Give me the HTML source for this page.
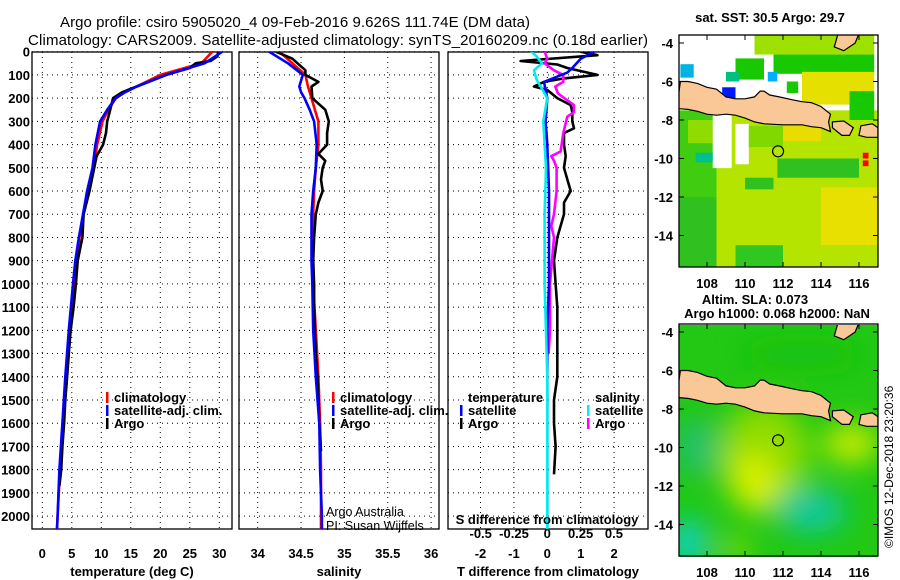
<!DOCTYPE html>
<html><head><meta charset="utf-8"><style>
html,body{margin:0;padding:0;background:#fff;}
svg{display:block;font-family:"Liberation Sans",sans-serif;}
.b{font-weight:bold;font-size:13px;}
</style></head><body>
<svg id="c" width="900" height="580" viewBox="0 0 900 580" xmlns="http://www.w3.org/2000/svg">
<defs>
<filter id="blur" x="-50%" y="-50%" width="200%" height="200%"><feGaussianBlur stdDeviation="14"/></filter>
<clipPath id="cm1"><rect x="679" y="35" width="199" height="232"/></clipPath>
<clipPath id="cm2"><rect x="679" y="325" width="199" height="232"/></clipPath>
<clipPath id="cp1"><rect x="32" y="52" width="200" height="477"/></clipPath>
<clipPath id="cp2"><rect x="239" y="52" width="200" height="477"/></clipPath>
<clipPath id="cp3"><rect x="448" y="52" width="200" height="477"/></clipPath>
</defs>
<text x="295" y="27" font-size="15" text-anchor="middle" textLength="470">Argo profile: csiro 5905020_4 09-Feb-2016 9.626S 111.74E (DM data)</text>
<text x="338" y="45" font-size="15" text-anchor="middle" textLength="620">Climatology: CARS2009. Satellite-adjusted climatology: synTS_20160209.nc (0.18d earlier)</text>
<g id="plots"></g>
<g id="maps"></g>
</svg>
<script>
// ---- data ----
const tDepth=[0,20,40,50,70,100,130,150,175,200,250,300,350,400,450,500,600,700,800,900,1000,1100,1200,1300,1400,1500,1600,1700,1800,1870];
const tArgo=[29.8,29.7,28.5,26,25,21,18,16,13.5,12,11.5,11,10.8,10.3,9.2,8.8,8,7,6.8,6,5.7,5.3,4.8,4.5,4.2,3.9,3.7,3.4,3.2,2.9];
const cDepth=[0,50,100,150,175,200,250,300,400,500,600,700,800,900,1000,1200,1400,1600,1800,2000,2056];
const tClim=[28.8,27,20,16,14,12.5,11.2,10.2,9.3,8.7,7.8,7,6.3,5.8,5.3,4.6,4.0,3.5,3.0,2.6,2.5];
const tSat=[30.5,27.5,21,16,14,12.4,11,9.8,9.0,8.5,7.6,6.9,6.2,5.6,5.2,4.5,3.9,3.4,2.9,2.6,2.5];
const sDepth=[0,30,80,100,130,150,200,250,300,350,400,440,470,500,550,600,650,700,800,900,1000,1100,1200,1300,1400,1500,1600,1720];
const sArgo=[34.21,34.4,34.55,34.55,34.7,34.62,34.63,34.78,34.82,34.8,34.8,34.7,34.78,34.75,34.73,34.75,34.7,34.67,34.65,34.64,34.65,34.65,34.66,34.67,34.69,34.7,34.71,34.73];
const sClim=[34.25,34.4,34.55,34.58,34.6,34.62,34.66,34.7,34.7,34.67,34.65,34.64,34.63,34.63,34.64,34.67,34.7,34.72,34.73,34.73,34.73];
const sSat=[34.13,34.35,34.52,34.48,34.5,34.54,34.6,34.65,34.68,34.67,34.64,34.62,34.62,34.62,34.63,34.64,34.67,34.71,34.72,34.74,34.74];
const dDepthA=[0,15,40,55,70,100,115,130,150,165,200,230,260,300,330,350,400,450,500,550,600,650,700,800,900,1000,1100,1200,1300,1400,1500,1600,1700,1820];
const dTArgo=[1.0,1.5,-0.8,0.3,0.6,1.5,0.5,-0.1,-0.4,0.0,0.3,0.7,0.75,0.75,0.8,0.5,0.5,0.55,0.5,0.6,0.7,0.5,0.5,0.3,0.2,0.25,0.3,0.3,0.3,0.3,0.2,0.2,0.25,0.2];
const dDepthS=[0,30,70,90,130,200,300,400,600,800,1000,1200,1400,1600,1800,2000,2056];
const dTSat=[1.4,1.0,0.75,0.6,-0.1,0.0,-0.05,0.0,0.05,0.05,0.05,0.0,0.0,0.0,0.0,0.0,0.0];
const dSDepthA=[0,30,50,80,100,130,150,180,230,260,280,350,430,450,470,500,600,700,750,800,1000,1200,1300];
const dSArgo=[-0.02,0.0,-0.02,0.05,0.12,0.12,0.06,0.08,0.2,0.2,0.15,0.12,0.1,0.03,0.05,0.07,0.07,0.05,0.03,0.05,0.02,0.02,0.01];
const dSDepthS=[0,20,50,80,120,150,200,300,400,500,700,1000,1400,1600,2000,2056];
const dSSat=[-0.12,-0.08,-0.04,-0.1,-0.08,-0.05,0,-0.03,-0.02,-0.01,-0.02,-0.02,0,0,0,0];
const depthTicks=[0,100,200,300,400,500,600,700,800,900,1000,1100,1200,1300,1400,1500,1600,1700,1800,1900,2000];
const tTicks=[0,5,10,15,20,25,30];
const sTicks=[34,34.5,35,35.5,36];
const dTTicks=[-2,-1,0,1,2];
const dSTicks=[-0.5,-0.25,0,0.25,0.5];
const latTicks=[-4,-6,-8,-10,-12,-14];
const lonTicks=[108,110,112,114,116];

// ---- scales ----
const Y=d=>51.7+d*0.2322;
const XT=t=>42.3+t*5.9;
const XS=s=>257.7+(s-34)*86.7;
const XDT=t=>547.3+t*33.4;
const XDS=s=>547.3+s*133.2;
const NS='http://www.w3.org/2000/svg';
function mk(tag,attrs,parent,txt){const e=document.createElementNS(NS,tag);for(const k in attrs)e.setAttribute(k,attrs[k]);if(txt!==undefined)e.textContent=txt;parent.appendChild(e);return e;}
const P=document.getElementById('plots');

function panel(x0,name,xt,xf,labels,title){
  const g=mk('g',{},P);
  
  
  depthTicks.forEach(d=>{const l=mk('line',{x1:x0,x2:x0+200,y1:Y(d),y2:Y(d),stroke:'#000','stroke-width':1,'stroke-dasharray':'1 4'},g);
    
    });
  xt.forEach((v,i)=>{const x=xf(v);const l=mk('line',{x1:x,x2:x,y1:52,y2:529,stroke:'#000','stroke-width':1,'stroke-dasharray':'1 4'},g);
    
    
    if(labels){const t=mk('text',{x:x,y:558,'text-anchor':'middle',class:'b'},g,labels[i]);
      
      }});
  const r=mk('rect',{x:x0,y:52,width:200,height:477,fill:'none',stroke:'#000','stroke-width':1.3},g);
  
  
  if(title){const t=mk('text',{x:x0+100,y:576,'text-anchor':'middle',class:'b'},g,title);
    
    }
  return g;
}
function line(g,ds,vs,xf,col,name,clip){
  const pts=ds.map((d,i)=>xf(vs[i]).toFixed(1)+','+Y(d).toFixed(1)).join(' ');
  const p=mk('polyline',{points:pts,fill:'none',stroke:col,'stroke-width':2.6,'stroke-linejoin':'round','clip-path':'url(#'+clip+')'},g);
  
  
}
// depth labels
depthTicks.forEach(d=>{const t=mk('text',{x:30,y:Y(d)+5,'text-anchor':'end',class:'b'},P,String(d));
  
  });

const g1=panel(32,'temperature-panel',tTicks,XT,tTicks.map(String),'temperature (deg C)');
line(g1,cDepth,tClim,XT,'#f00','climatology-temperature-line','cp1');
line(g1,tDepth,tArgo,XT,'#000','argo-temperature-line','cp1');
line(g1,cDepth,tSat,XT,'#00f','satellite-temperature-line','cp1');
const g2=panel(239,'salinity-panel',sTicks,XS,sTicks.map(String),'salinity');
line(g2,cDepth,sClim,XS,'#f00','climatology-salinity-line','cp2');
line(g2,sDepth,sArgo,XS,'#000','argo-salinity-line','cp2');
line(g2,cDepth,sSat,XS,'#00f','satellite-salinity-line','cp2');
const g3=panel(448,'difference-panel',dTTicks,XDT,dTTicks.map(String),'T difference from climatology');
line(g3,dDepthA,dTArgo,XDT,'#000','argo-temperature-difference-line','cp3');
line(g3,dSDepthA,dSArgo,XDS,'#f0f','argo-salinity-difference-line','cp3');
line(g3,dDepthS,dTSat,XDT,'#00f','satellite-temperature-difference-line','cp3');
line(g3,dSDepthS,dSSat,XDS,'#0ee','satellite-salinity-difference-line','cp3');
dSTicks.forEach(v=>{const t=mk('text',{x:XDS(v),y:538,'text-anchor':'middle',class:'b'},g3,String(v));
  
  });
{const t=mk('text',{x:547,y:524,'text-anchor':'middle',class:'b'},g3,'S difference from climatology');
 
 }

function legend(x,y,items,head){
  const g=mk('g',{},P);
  
  
  if(head){mk('text',{x:x+8,y:y-13,class:'b'},g,head);}
  items.forEach((it,i)=>{const e=mk('g',{},g);
    
    
    mk('rect',{x:x,y:y+i*13-10,width:2.5,height:11,fill:it[1]},e);
    mk('text',{x:x+8,y:y+i*13,class:'b','font-size':'12'},e,it[0]);});
}
legend(106,402,[['climatology','#f00'],['satellite-adj. clim.','#00f'],['Argo','#000']]);
legend(332,402,[['climatology','#f00'],['satellite-adj. clim.','#00f'],['Argo','#000']]);
legend(460,415,[['satellite','#00f'],['Argo','#000']],'temperature');
legend(587,415,[['satellite','#0ee'],['Argo','#f0f']],'salinity');
{const t=mk('text',{x:326,y:516,'font-size':'12.5'},P,'Argo Australia');
 
 
 const t2=mk('text',{x:326,y:530,'font-size':'12.5'},P,'PI: Susan Wijffels');
 
 }

// ---- maps ----
const M=document.getElementById('maps');
const LX=l=>707+(l-108)*19;
function drawMap(y0,name,clip,fillFn,titles){
  const LY=la=>y0+(-4-la)*19.25;
  const g=mk('g',{},M);
  
  
  const inner=mk('g',{'clip-path':'url(#'+clip+')'},g);
  fillFn(inner,LY);
  const polys=[
   [[106.6,-6.0],[107,-6.0],[107.5,-6.1],[108,-6.3],[108.5,-6.4],[109,-6.8],[109.5,-6.9],[110,-6.9],[110.5,-6.8],[110.8,-6.5],[111,-6.5],[111.3,-6.7],[111.8,-6.8],[112.5,-6.95],[113,-7.05],[113.5,-7.1],[114,-7.3],[114.5,-7.7],[114.4,-8.1],[114.5,-8.6],[114,-8.4],[113.5,-8.35],[113,-8.25],[112,-8.25],[111,-8.2],[110.5,-8.1],[110,-7.9],[109.5,-7.75],[109,-7.7],[108.5,-7.75],[108,-7.7],[107.5,-7.55],[107,-7.45],[106.4,-7.4]],
   [[114.6,-8.1],[115.2,-8.05],[115.7,-8.4],[115.5,-8.8],[115.1,-8.8],[114.6,-8.4]],
   [[116.1,-8.3],[116.7,-8.2],[117.0,-8.4],[117,-8.9],[116.4,-8.9],[116.0,-8.8]],
   [[114.9,-3.5],[116,-3.5],[115.8,-4.0],[115.2,-4.4],[114.7,-4.2]]];
  polys.forEach(p=>{const e=mk('polygon',{points:p.map(q=>LX(q[0]).toFixed(1)+','+LY(q[1]).toFixed(1)).join(' '),fill:'#f9c896',stroke:'#000','stroke-width':1.2},inner);
    
    });
  const c=mk('circle',{cx:LX(111.74),cy:LY(-9.626),r:5.5,fill:'none',stroke:'#000','stroke-width':1.2},inner);
  
  
  mk('rect',{x:679,y:y0-8,width:199,height:232,fill:'none',stroke:'#000','stroke-width':1.3},g);
  latTicks.forEach(la=>{mk('line',{x1:679,x2:684,y1:LY(la),y2:LY(la),stroke:'#000'},g);mk('line',{x1:873,x2:878,y1:LY(la),y2:LY(la),stroke:'#000'},g);
    const t=mk('text',{x:673,y:LY(la)+5,'text-anchor':'end',class:'b'},g,String(la));
    
    });
  lonTicks.forEach(lo=>{mk('line',{x1:LX(lo),x2:LX(lo),y1:y0-8,y2:y0-3,stroke:'#000'},g);mk('line',{x1:LX(lo),x2:LX(lo),y1:y0+219,y2:y0+224,stroke:'#000'},g);
    const t=mk('text',{x:LX(lo),y:y0+245,'text-anchor':'middle',class:'b'},g,String(lo));
    
    });
  titles.forEach((s,i)=>{const t=mk('text',{x:s[1],y:s[2],'text-anchor':'middle',class:'b','font-size':'12'},g,s[0]);
    
    });
}
drawMap(43,'sst-map','cm1',(g,LY)=>{
  mk('rect',{x:679,y:35,width:199,height:232,fill:'#b4e400'},g);
  const R=(a,b,c,d,f)=>mk('rect',{x:LX(a),y:LY(b),width:LX(c)-LX(a),height:LY(d)-LY(b),fill:f},g);
  R(106.5,-3.5,117,-7.5,'#ffffff');
  R(110.5,-3.5,116.8,-4.6,'#9ee000');R(111.5,-4.6,116.8,-5.6,'#18c800');R(113,-5.5,116.8,-7.2,'#e6e000');
  R(109.5,-4.8,111,-5.9,'#18c800');R(108.8,-6.3,109.5,-6.9,'#0018ff');R(106.6,-5.1,107.3,-5.8,'#00b4e0');
  R(109,-5.5,109.7,-6.0,'#00c080');R(111.2,-5.5,111.7,-6.0,'#00b0ff');R(112.2,-6.0,112.8,-6.6,'#18c800');
  R(115.5,-6.5,116.8,-8.0,'#18c800');R(113,-7.4,113.6,-7.8,'#00c8a0');
  R(106.5,-7.5,108.5,-16,'#40cc10');R(106.5,-12,108.5,-16,'#30c020');
  R(107,-8.0,108.3,-9.2,'#90dc00');R(108.3,-7.7,109.3,-10.5,'#ffffff');R(109.5,-8.2,110.2,-10.3,'#ffffff');
  R(110.2,-8.3,112,-9.4,'#80d800');R(112,-8.3,114,-9.1,'#e8dc00');R(107.4,-9.7,108.3,-10.2,'#00c090');
  R(111.7,-10,116,-11,'#30c020');R(114,-11.5,117,-14.5,'#e8e000');R(109.5,-14.5,112,-15.7,'#30c820');
  R(110,-11,111.5,-11.6,'#30c020');R(116.2,-9.7,116.5,-10.0,'#ff0000');R(116.2,-10.1,116.5,-10.4,'#ff0000');
},[['sat. SST: 30.5 Argo: 29.7',770,22]]);
drawMap(332,'sla-map','cm2',(g,LY)=>{
  mk('rect',{x:679,y:325,width:199,height:232,fill:'#22c814'},g);
  const f=mk('g',{filter:'url(#blur)'},g);
  const E=(lo,la,rx,ry,col)=>mk('ellipse',{cx:LX(lo),cy:LY(la),rx:rx,ry:ry,fill:col},f);
  E(111,-10.5,45,55,'#90dc00');E(110.5,-11.8,22,30,'#d8f000');E(115.6,-9.8,28,20,'#c8ec00');
  E(113.5,-13.3,35,22,'#10c8a0');E(107,-15,20,25,'#10d0c0');E(107.5,-10,22,28,'#20c070');
  E(109.5,-15.3,15,10,'#a0e000');E(113,-5.2,60,12,'#18c010');
},[['Altim. SLA: 0.073',755,304],['Argo h1000: 0.068 h2000: NaN',777,318]]);
{const t=mk('text',{x:0,y:0,transform:'translate(893,548) rotate(-90)','font-size':'12'},M,'©IMOS 12-Dec-2018 23:20:36');
 
 }
</script>
</body></html>
